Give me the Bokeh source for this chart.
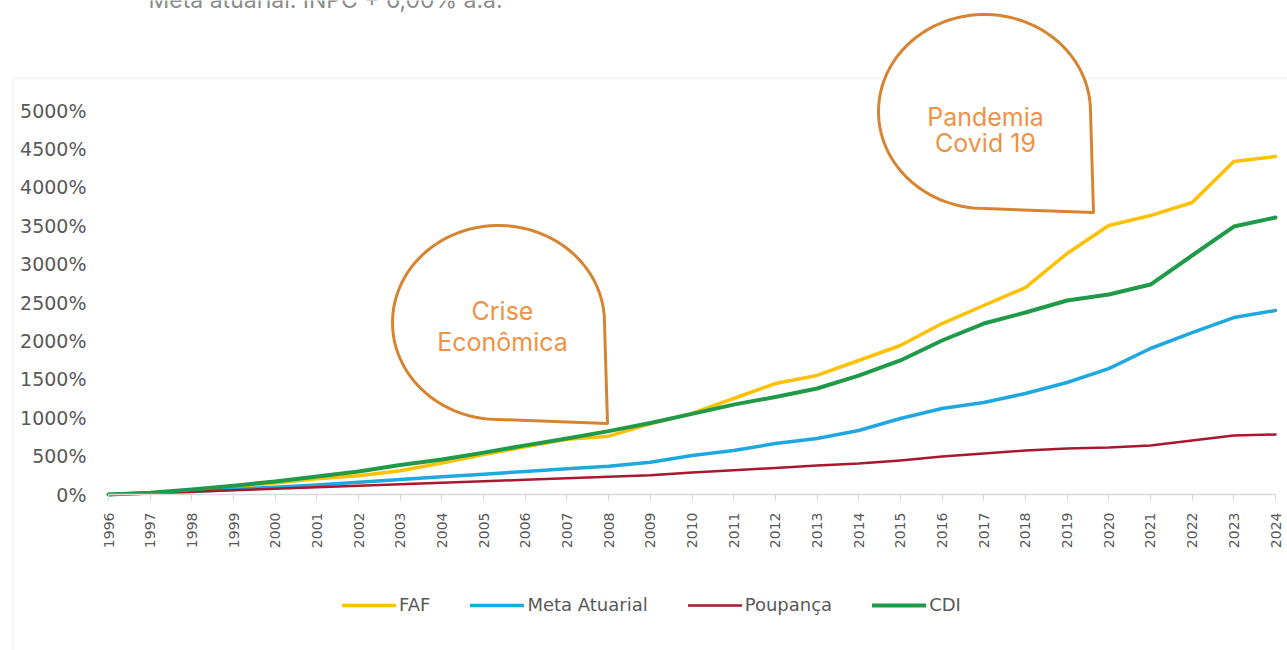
import math
import numpy as np
from bokeh.plotting import figure
from bokeh.models import (Range1d, FixedTicker, Legend, LegendItem, Label,
                          BoxAnnotation, ColumnDataSource)
from bokeh.embed import file_html
from bokeh.resources import INLINE

# ---------------- data ----------------
years = list(range(1996, 2025))
faf = [0, 20, 55, 100, 150, 205, 245, 310, 410, 520, 620, 720, 760, 920, 1055,
       1250, 1445, 1550, 1745, 1940, 2226, 2461, 2695, 3138, 3502, 3632, 3802, 4336, 4401]
meta_atuarial = [0, 18, 40, 65, 95, 125, 160, 195, 230, 265, 300, 335, 368, 420, 508,
                 572, 664, 729, 833, 989, 1120, 1198, 1315, 1458, 1640, 1901, 2109, 2304, 2396]
poupanca = [0, 15, 35, 55, 75, 95, 115, 135, 152, 172, 192, 212, 230, 250, 286,
            316, 345, 377, 403, 443, 495, 534, 573, 599, 612, 638, 703, 768, 781]
cdi = [0, 22, 65, 115, 170, 235, 300, 385, 455, 545, 640, 730, 825, 930, 1050,
       1170, 1270, 1380, 1549, 1745, 2005, 2226, 2370, 2526, 2604, 2734, 3112, 3489, 3607]
series_names = ["FAF", "Meta Atuarial", "Poupança", "CDI"]
y_ticks = list(range(0, 5001, 500))
y_tick_labels = [f"{t}%" for t in y_ticks]
title_text = "Meta atuarial: INPC + 6,00% a.a."
callout_covid = ["Pandemia", "Covid 19"]
callout_crise = ["Crise", "Econômica"]

# ---------------- layout constants (pixels) ----------------
W, H = 1287, 650
X0_PX, X1_PX = 108, 1275      # pixel of first / last year
Y0_PX, Y5000_PX = 494, 110    # pixel of 0% and 5000%

pxy = (X1_PX - X0_PX) / (years[-1] - years[0])
ppy = (Y0_PX - Y5000_PX) / 5000.0

def fx(px):
    return years[0] + (px - X0_PX) / pxy

def fy(py):
    return (Y0_PX - py) / ppy

colors = ["#FFC000", "#1FA8E0", "#A8182E", "#1E9A48"]
widths = [3.5, 3.5, 2.5, 4]

p = figure(width=W, height=H, output_backend="svg", toolbar_location=None,
           x_range=Range1d(fx(0), fx(W)), y_range=Range1d(fy(H), fy(0)),
           min_border_left=0, min_border_right=0, min_border_top=0,
           min_border_bottom=0)
p.outline_line_color = None
p.grid.visible = False
p.background_fill_color = "white"
p.border_fill_color = "white"

# chart area border (only its left and top edges are inside the page)
p.add_layout(BoxAnnotation(left=fx(12), right=fx(W + 40), top=fy(78), bottom=fy(H + 40),
                           fill_alpha=0, line_color="#d9d9d9", line_width=1.5,
                           level="underlay"))

# lines
renderers = []
for name, vals, c, w in zip(series_names, [faf, meta_atuarial, poupanca, cdi], colors, widths):
    src = ColumnDataSource(dict(x=years, y=vals))
    r = p.line("x", "y", source=src, line_color=c, line_width=w, line_join="round",
               line_cap="round")
    renderers.append(r)

# axes, fixed inside the frame
ax = p.xaxis[0]
ax.fixed_location = 0
ax.bounds = (years[0], years[-1])
ax.ticker = FixedTicker(ticks=years)
ax.major_label_orientation = math.pi / 2
ax.axis_line_color = "#d9d9d9"
ax.axis_line_width = 1.5
ax.major_tick_line_color = "#d9d9d9"
ax.major_tick_out = 6
ax.major_tick_in = 0
ax.minor_tick_line_color = None
ax.major_label_standoff = 12
ax.major_label_text_font = "DejaVu Sans"
ax.major_label_text_font_size = "14px"
ax.major_label_text_color = "#595959"

ay = p.yaxis[0]
ay.fixed_location = years[0]
ay.ticker = FixedTicker(ticks=y_ticks)
ay.major_label_overrides = {t: l for t, l in zip(y_ticks, y_tick_labels)}
ay.axis_line_color = None
ay.major_tick_line_color = None
ay.minor_tick_line_color = None
ay.major_label_standoff = 16
ay.major_label_text_font = "DejaVu Sans"
ay.major_label_text_font_size = "19px"
ay.major_label_text_color = "#595959"

# callout bubbles (teardrop shapes)
def teardrop(cx, cy, rx, ry):
    t1 = np.linspace(math.pi, 0, 60)
    xs = list(cx + rx * np.cos(t1))
    ys = list(cy - ry * np.sin(t1))
    xs += [cx + rx + 3, cx]
    ys += [cy + ry + 4, cy + ry]
    t2 = np.linspace(1.5 * math.pi, math.pi, 30)
    xs += list(cx + rx * np.cos(t2))
    ys += list(cy - ry * np.sin(t2))
    return [fx(v) for v in xs], [fy(v) for v in ys]

bub_color = "#D6842F"
txt_color = "#EE9244"
for (cx, cy) in [(984, 111), (498, 322)]:
    bx, by = teardrop(cx, cy, 106, 97)
    p.patch(bx, by, fill_color="white", line_color=bub_color, line_width=3,
            line_join="round")

for txt, (tx, ty) in zip(callout_covid + callout_crise,
                         [(985, 116), (985, 142), (502, 310), (502, 341)]):
    p.add_layout(Label(x=fx(tx), y=fy(ty), text=txt, text_align="center",
                       text_baseline="middle", text_font="Inter",
                       text_font_size="25px", text_color=txt_color))

# partially visible title at the very top (cut off as in the source image)
p.add_layout(Label(x=fx(148), y=fy(-1), text=title_text, text_align="left",
                   text_baseline="middle", text_font="Inter",
                   text_font_size="23px", text_color="#8c8c8c"))

# legend
legend = Legend(items=[LegendItem(label=n, renderers=[r]) for n, r in zip(series_names, renderers)],
                location=(342, H - 615), orientation="horizontal",
                glyph_width=54, glyph_height=20, label_standoff=3, spacing=40,
                padding=0, margin=0, border_line_color=None, background_fill_alpha=0,
                label_text_font="DejaVu Sans", label_text_font_size="18px",
                label_text_color="#595959")
p.add_layout(legend)

open("out.html", "w").write(file_html(p, INLINE))
